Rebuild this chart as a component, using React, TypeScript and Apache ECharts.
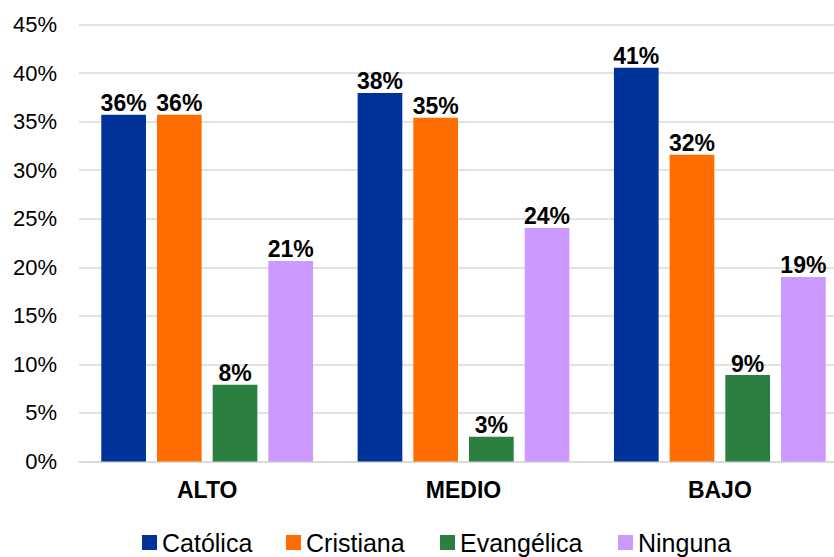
import React, { useEffect, useRef } from "react";
import * as echarts from "echarts";

const categories = ["ALTO", "MEDIO", "BAJO"];
const seriesNames = ["Católica", "Cristiana", "Evangélica", "Ninguna"];
const catolica = [35.7, 37.95, 40.55];
const cristiana = [35.7, 35.4, 31.6];
const evangelica = [7.9, 2.55, 8.9];
const ninguna = [20.65, 24.05, 19.0];
const yTicks = { min: 0, max: 45, interval: 5 };
const colors = ["#003399", "#FF6D00", "#2B7F40", "#CC99FF"];
const legendLefts = [142, 286, 440, 618];

export default function App() {
  const ref = useRef<HTMLDivElement>(null);
  useEffect(() => {
    document.body.style.margin = "0";
    const chart = echarts.init(ref.current!, undefined, { renderer: "svg" });
    const font = "Liberation Sans, Arial, sans-serif";
    const data = [catolica, cristiana, evangelica, ninguna];
    chart.setOption({
      animation: false,
      textStyle: { fontFamily: font },
      grid: {
        left: 79,
        top: 24.5,
        width: 769,
        height: 437,
        containLabel: false,
        outerBoundsMode: "none",
      },
      legend: seriesNames.map((name, i) => ({
        data: [name],
        left: legendLefts[i],
        top: 530,
        padding: 0,
        icon: "rect",
        itemWidth: 15,
        itemHeight: 15,
        textStyle: { fontSize: 25, color: "#000", fontFamily: font },
      })),
      xAxis: {
        type: "category",
        data: categories,
        axisLine: { show: true, lineStyle: { color: "#d9d9d9", width: 1.5 } },
        axisTick: { show: false },
        axisLabel: { fontSize: 23, fontWeight: "bold", color: "#000", margin: 17, fontFamily: font },
      },
      yAxis: {
        type: "value",
        min: yTicks.min,
        max: yTicks.max,
        interval: yTicks.interval,
        axisLine: { show: false },
        axisTick: { show: false },
        splitLine: { lineStyle: { color: "#d9d9d9", width: 1.5 } },
        axisLabel: { formatter: "{value}%", fontSize: 22, color: "#000", margin: 22, fontFamily: font },
      },
      series: seriesNames.map((name, i) => ({
        name,
        type: "bar",
        data: data[i],
        barWidth: 44.7,
        barGap: "24.6%",
        itemStyle: { color: colors[i] },
        label: {
          show: true,
          position: "top",
          distance: 0,
          formatter: (p: any) => Math.round(p.value) + "%",
          fontSize: 23,
          fontWeight: "bold",
          color: "#000",
          fontFamily: font,
        },
      })),
    });
    return () => chart.dispose();
  }, []);
  return <div ref={ref} style={{ width: 834, height: 557 }} />;
}
